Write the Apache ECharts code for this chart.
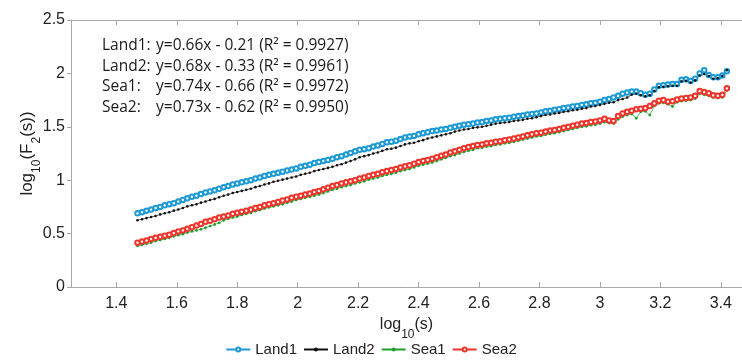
<!DOCTYPE html>
<html><head><meta charset="utf-8">
<script src="https://cdn.jsdelivr.net/npm/echarts@6/dist/echarts.min.js"></script>
<style>html,body{margin:0;padding:0;background:#fff}#c{width:742px;height:364px}</style>
</head><body><div id="c"></div>
<script>
const xs = [1.470,1.485,1.500,1.515,1.530,1.545,1.560,1.575,1.590,1.605,
1.620,1.635,1.650,1.665,1.680,1.695,1.710,1.725,1.740,1.755,
1.770,1.785,1.800,1.815,1.830,1.845,1.860,1.875,1.890,1.905,
1.920,1.935,1.950,1.965,1.980,1.995,2.010,2.025,2.040,2.055,
2.070,2.085,2.100,2.115,2.130,2.145,2.160,2.175,2.190,2.205,
2.220,2.235,2.250,2.265,2.280,2.295,2.310,2.325,2.340,2.355,
2.370,2.385,2.400,2.415,2.430,2.445,2.460,2.475,2.490,2.505,
2.520,2.535,2.550,2.565,2.580,2.595,2.610,2.625,2.640,2.655,
2.670,2.685,2.700,2.715,2.730,2.745,2.760,2.775,2.790,2.805,
2.820,2.835,2.850,2.865,2.880,2.895,2.910,2.925,2.940,2.955,
2.970,2.985,3.000,3.015,3.030,3.045,3.060,3.075,3.090,3.105,
3.120,3.135,3.150,3.165,3.180,3.195,3.210,3.225,3.240,3.255,
3.270,3.285,3.300,3.315,3.330,3.345,3.360,3.375,3.390,3.405,
3.420];
const land1 = [0.69,0.70,0.715,0.725,0.74,0.75,0.765,0.775,0.785,0.80,
0.815,0.83,0.845,0.855,0.87,0.885,0.895,0.905,0.92,0.935,
0.945,0.96,0.97,0.98,0.99,1.00,1.015,1.025,1.04,1.05,
1.06,1.07,1.08,1.09,1.10,1.11,1.125,1.135,1.145,1.16,
1.17,1.18,1.19,1.20,1.215,1.225,1.24,1.255,1.27,1.285,
1.29,1.30,1.315,1.325,1.34,1.355,1.36,1.37,1.385,1.40,
1.41,1.415,1.43,1.44,1.45,1.46,1.465,1.475,1.48,1.49,
1.50,1.51,1.52,1.525,1.53,1.54,1.545,1.555,1.56,1.57,
1.575,1.58,1.585,1.595,1.60,1.605,1.615,1.62,1.625,1.635,
1.645,1.65,1.66,1.665,1.675,1.68,1.69,1.695,1.705,1.71,
1.72,1.725,1.735,1.75,1.76,1.775,1.79,1.81,1.82,1.83,
1.83,1.815,1.80,1.81,1.85,1.885,1.89,1.895,1.90,1.90,
1.94,1.945,1.93,1.95,2.00,2.03,1.985,1.965,1.965,1.98,
2.02];
const land2 = [0.625,0.635,0.645,0.655,0.665,0.68,0.69,0.70,0.715,0.725,
0.74,0.755,0.765,0.775,0.79,0.80,0.815,0.825,0.84,0.855,
0.865,0.88,0.89,0.90,0.91,0.92,0.935,0.945,0.96,0.97,
0.985,0.995,1.005,1.015,1.025,1.035,1.05,1.06,1.07,1.085,
1.095,1.105,1.115,1.125,1.14,1.15,1.165,1.18,1.195,1.215,
1.225,1.235,1.25,1.26,1.275,1.29,1.295,1.305,1.32,1.335,
1.345,1.35,1.365,1.375,1.39,1.40,1.41,1.42,1.43,1.44,
1.455,1.465,1.475,1.48,1.49,1.495,1.50,1.51,1.52,1.53,
1.535,1.54,1.545,1.555,1.56,1.565,1.575,1.58,1.59,1.60,
1.61,1.615,1.625,1.63,1.64,1.645,1.655,1.66,1.67,1.675,
1.69,1.695,1.705,1.715,1.725,1.73,1.75,1.76,1.775,1.80,
1.81,1.795,1.785,1.795,1.835,1.87,1.875,1.88,1.885,1.885,
1.925,1.93,1.915,1.935,1.98,1.995,1.975,1.95,1.955,1.975,
2.03];
const sea1 = [0.385,0.395,0.405,0.415,0.43,0.44,0.45,0.46,0.475,0.485,
0.495,0.51,0.52,0.53,0.54,0.555,0.57,0.585,0.60,0.625,
0.64,0.65,0.66,0.675,0.685,0.695,0.71,0.72,0.735,0.745,
0.755,0.765,0.775,0.79,0.80,0.815,0.825,0.835,0.845,0.855,
0.865,0.88,0.895,0.91,0.92,0.935,0.945,0.955,0.97,0.98,
0.99,1.005,1.015,1.025,1.04,1.05,1.06,1.07,1.085,1.095,
1.105,1.12,1.135,1.145,1.155,1.165,1.18,1.195,1.21,1.225,
1.235,1.25,1.265,1.275,1.285,1.30,1.305,1.315,1.32,1.33,
1.335,1.345,1.35,1.36,1.37,1.38,1.39,1.40,1.41,1.415,
1.425,1.435,1.44,1.45,1.46,1.47,1.48,1.49,1.50,1.505,
1.515,1.52,1.53,1.545,1.535,1.53,1.57,1.595,1.61,1.62,
1.58,1.64,1.645,1.61,1.695,1.72,1.725,1.71,1.69,1.73,
1.74,1.745,1.75,1.765,1.81,1.80,1.79,1.775,1.77,1.775,
1.84];
const sea2 = [0.415,0.425,0.435,0.45,0.46,0.47,0.48,0.49,0.505,0.52,
0.53,0.545,0.56,0.575,0.59,0.61,0.62,0.635,0.65,0.66,
0.67,0.685,0.695,0.705,0.715,0.725,0.74,0.75,0.765,0.775,
0.785,0.795,0.81,0.82,0.835,0.845,0.855,0.865,0.875,0.89,
0.90,0.915,0.93,0.945,0.955,0.97,0.98,0.99,1.00,1.015,
1.025,1.04,1.05,1.06,1.075,1.085,1.095,1.105,1.12,1.13,
1.14,1.155,1.17,1.18,1.19,1.20,1.215,1.23,1.24,1.26,
1.27,1.285,1.30,1.31,1.32,1.33,1.335,1.345,1.35,1.36,
1.365,1.375,1.38,1.39,1.40,1.41,1.42,1.43,1.44,1.445,
1.455,1.465,1.47,1.48,1.49,1.50,1.51,1.52,1.53,1.535,
1.545,1.55,1.56,1.575,1.56,1.555,1.60,1.625,1.64,1.65,
1.665,1.67,1.675,1.695,1.72,1.745,1.75,1.735,1.74,1.755,
1.765,1.77,1.775,1.79,1.835,1.825,1.815,1.795,1.79,1.80,
1.86];
const xTicks = [1.4,1.6,1.8,2.0,2.2,2.4,2.6,2.8,3.0,3.2,3.4];
const seriesNames = ['Land1','Land2','Sea1','Sea2'];
const fitLabels = ['Land1:','Land2:','Sea1:','Sea2:'];
const fitEquations = ['y=0.66x - 0.21 (R² = 0.9927)','y=0.68x - 0.33 (R² = 0.9961)','y=0.74x - 0.66 (R² = 0.9972)','y=0.73x - 0.62 (R² = 0.9950)'];

const pairs = arr => xs.map((x, i) => [x, arr[i]]);
const chart = echarts.init(document.getElementById('c'), null, {renderer: 'canvas'});
const axisGray = '#a8a8a8';
const font = 'Liberation Sans, Arial, sans-serif';
const textGraphics = [];
fitLabels.forEach((t, i) => {
  textGraphics.push({type: 'text', left: 102, top: 38 + i * 20.5, style: {text: t, font: '15.5px "Open Sans", sans-serif', fill: '#1a1a1a'}});
  textGraphics.push({type: 'text', left: 156, top: 38 + i * 20.5, style: {text: fitEquations[i], font: '15.5px "Open Sans", sans-serif', fill: '#1a1a1a'}});
});
const styles = [
  {color: '#1b9ad6', symbol: 'emptyCircle', size: 4.5},
  {color: '#111111', symbol: 'circle', size: 2.6},
  {color: '#1f9e2a', symbol: 'circle', size: 2.8},
  {color: '#f0342c', symbol: 'emptyCircle', size: 4.5}
];
const data = [land1, land2, sea1, sea2];
chart.setOption({
  animation: false,
  grid: {left: 71, right: 0, top: 20, bottom: 77, containLabel: false},
  legend: {
    bottom: 2, left: 'center', itemWidth: 24, itemHeight: 5, itemGap: 6,
    textStyle: {fontSize: 15, color: '#222', fontFamily: font},
    data: seriesNames
  },
  xAxis: [{
    type: 'value', min: 1.25, max: 3.47, position: 'bottom',
    axisLine: {show: true, lineStyle: {color: axisGray, width: 1}},
    axisTick: {show: true, inside: true, length: 5, customValues: xTicks, lineStyle: {color: axisGray}},
    axisLabel: {customValues: xTicks, fontSize: 16, color: '#222', fontFamily: font, margin: 9},
    splitLine: {show: false},
    name: '{n|log}{s|10}{n|(s)}', nameLocation: 'middle', nameGap: 30,
    nameTextStyle: {rich: {
      n: {fontSize: 16, color: '#222', fontFamily: font, verticalAlign: 'top', lineHeight: 24},
      s: {fontSize: 12, color: '#222', fontFamily: font, verticalAlign: 'bottom', lineHeight: 24, padding: [8, 0, 0, 0]}
    }}
  }, {
    type: 'value', min: 1.25, max: 3.47, position: 'top',
    axisLine: {show: true, lineStyle: {color: axisGray, width: 1}},
    axisTick: {show: true, inside: true, length: 5, customValues: xTicks, lineStyle: {color: axisGray}},
    axisLabel: {show: false}, splitLine: {show: false}
  }],
  yAxis: {
    type: 'value', min: 0, max: 2.5, interval: 0.5,
    axisLine: {show: true, lineStyle: {color: axisGray, width: 1}},
    axisTick: {show: true, inside: false, length: 4, lineStyle: {color: axisGray}},
    axisLabel: {fontSize: 16, color: '#222', fontFamily: font, margin: 6},
    splitLine: {show: false},
    name: '{n|log}{s|10}{n|(F}{s|2}{n|(s))}', nameLocation: 'middle', nameGap: 28, nameMoveOverlap: false,
    nameTextStyle: {rich: {
      n: {fontSize: 17, color: '#222', fontFamily: font, verticalAlign: 'top', lineHeight: 24},
      s: {fontSize: 12, color: '#222', fontFamily: font, verticalAlign: 'bottom', lineHeight: 24, padding: [8, 0, 0, 0]}
    }}
  },
  graphic: textGraphics,
  series: seriesNames.map((name, k) => ({
    name, type: 'line', xAxisIndex: 0,
    data: pairs(data[k]),
    symbol: styles[k].symbol, symbolSize: styles[k].size, showSymbol: true,
    itemStyle: {color: styles[k].color, borderWidth: 0.9},
    lineStyle: {color: styles[k].color, width: 0.7},
    emphasis: {disabled: true}
  }))
});
</script></body></html>
